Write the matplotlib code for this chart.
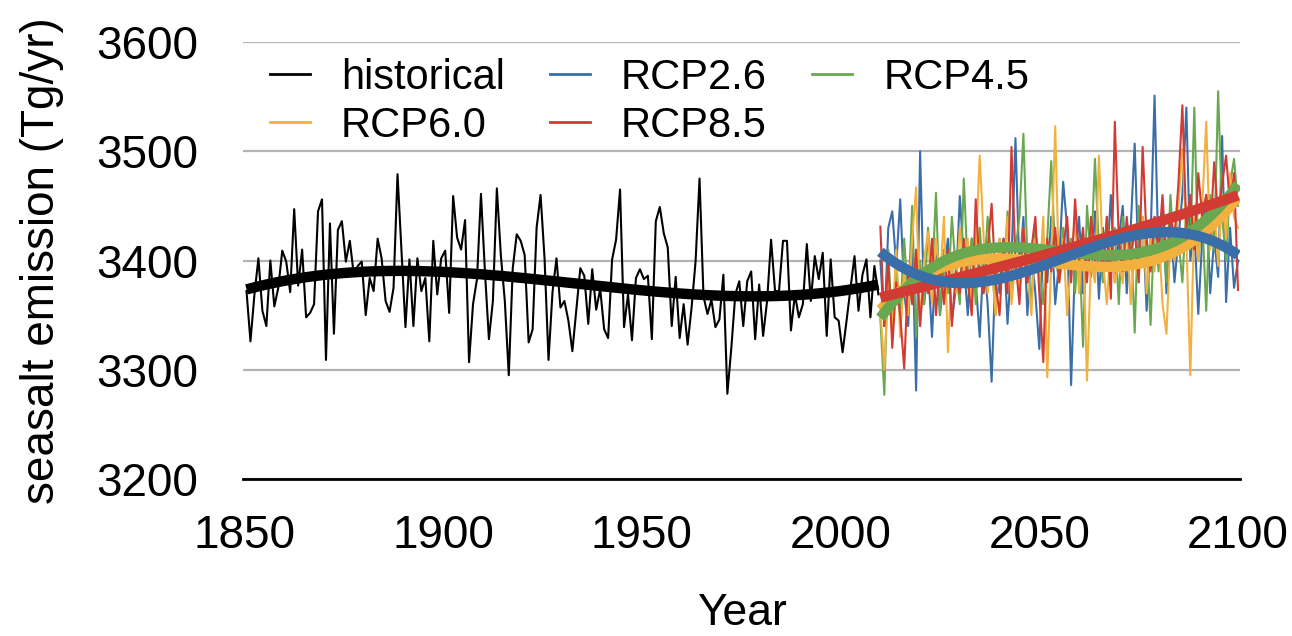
import numpy as np
import matplotlib
matplotlib.use("Agg")
import matplotlib.pyplot as plt
from matplotlib.lines import Line2D

plt.rcParams['font.family'] = ['Liberation Sans', 'DejaVu Sans']

# ---------------- data ----------------
hist_years = list(range(1850, 2010))
hist_vals = [
    3372, 3326, 3369, 3402, 3354, 3340, 3400, 3358, 3375, 3409,
    3399, 3371, 3447, 3377, 3410, 3348, 3352, 3360, 3445, 3456,
    3309, 3434, 3333, 3428, 3436, 3399, 3418, 3387, 3395, 3399,
    3350, 3384, 3372, 3420, 3402, 3363, 3353, 3375, 3479, 3409,
    3339, 3401, 3340, 3402, 3372, 3384, 3326, 3418, 3369, 3402,
    3409, 3352, 3459, 3421, 3410, 3437, 3307, 3360, 3383, 3461,
    3390, 3328, 3363, 3466, 3405, 3363, 3295, 3393, 3424, 3418,
    3405, 3325, 3337, 3430, 3460, 3402, 3309, 3371, 3402, 3357,
    3363, 3345, 3317, 3355, 3393, 3386, 3342, 3392, 3355, 3374,
    3337, 3329, 3401, 3419, 3465, 3339, 3369, 3327, 3384, 3392,
    3383, 3386, 3328, 3436, 3449, 3425, 3412, 3340, 3385, 3329,
    3360, 3323, 3357, 3399, 3475, 3367, 3351, 3364, 3339, 3346,
    3387, 3278, 3320, 3369, 3381, 3340, 3381, 3390, 3328, 3378,
    3331, 3363, 3419, 3372, 3372, 3418, 3418, 3336, 3369, 3348,
    3360, 3415, 3363, 3404, 3383, 3407, 3331, 3401, 3348, 3345,
    3316, 3345, 3375, 3404, 3354, 3387, 3401, 3348, 3395, 3369,
]

rcp_years = list(range(2010, 2101))
rcp26 = [
    3400, 3340, 3430, 3445, 3395, 3456, 3370, 3340, 3420, 3281,
    3500, 3360, 3395, 3330, 3410, 3350, 3390, 3420, 3345, 3375,
    3459, 3400, 3350, 3420, 3380, 3330, 3405, 3360, 3289, 3395,
    3370, 3420, 3342, 3400, 3512, 3390, 3440, 3350, 3410, 3370,
    3319, 3420, 3380, 3440, 3360, 3400, 3472, 3430, 3286, 3400,
    3440, 3370, 3420, 3385, 3445, 3365, 3430, 3395, 3460, 3380,
    3420, 3450, 3370, 3430, 3507, 3390, 3440, 3354, 3420, 3551,
    3400, 3450, 3370, 3440, 3380, 3420, 3460, 3540, 3400, 3430,
    3351, 3420, 3460, 3370, 3420, 3385, 3514, 3362, 3430, 3375,
    3400,
]
rcp45 = [
    3347, 3277, 3410, 3330, 3395, 3350, 3420, 3360, 3450, 3330,
    3400, 3360, 3430, 3380, 3462, 3350, 3410, 3370, 3440, 3390,
    3360, 3475, 3390, 3420, 3360, 3430, 3380, 3440, 3400, 3350,
    3420, 3380, 3445, 3370, 3410, 3440, 3516, 3400, 3360, 3430,
    3390, 3360, 3420, 3491, 3405, 3380, 3430, 3395, 3420, 3370,
    3420, 3321, 3450, 3400, 3493, 3410, 3380, 3440, 3395, 3430,
    3360, 3440, 3390, 3430, 3334, 3450, 3400, 3420, 3341, 3440,
    3390, 3430, 3380, 3460, 3400, 3420, 3380, 3450, 3410, 3540,
    3400, 3440, 3354, 3460, 3410, 3555, 3440, 3400, 3470, 3493,
    3450,
]
rcp60 = [
    3356, 3300, 3380, 3340, 3410, 3330, 3390, 3350, 3420, 3467,
    3340, 3400, 3426, 3360, 3420, 3380, 3440, 3316, 3400, 3370,
    3430, 3390, 3420, 3360, 3410, 3496, 3420, 3370, 3400, 3350,
    3420, 3380, 3440, 3360, 3400, 3370, 3430, 3390, 3350, 3420,
    3380, 3440, 3293, 3400, 3523, 3380, 3420, 3350, 3400, 3440,
    3370, 3420, 3290, 3400, 3380, 3496, 3400, 3360, 3420, 3380,
    3400, 3379, 3430, 3360, 3410, 3380, 3440, 3370, 3420, 3390,
    3430, 3360, 3333, 3420, 3400, 3450, 3502, 3420, 3295, 3440,
    3400, 3450, 3527, 3410, 3450, 3395, 3460, 3420, 3480, 3440,
    3430,
]
rcp85 = [
    3431, 3340, 3400, 3320, 3380, 3350, 3301, 3390, 3360, 3410,
    3340, 3390, 3370, 3420, 3350, 3400, 3360, 3410, 3340, 3390,
    3370, 3420, 3380, 3350, 3456, 3390, 3370, 3410, 3452, 3380,
    3350, 3420, 3370, 3504, 3400, 3360, 3430, 3380, 3410, 3440,
    3370, 3307, 3420, 3390, 3430, 3380, 3410, 3440, 3380, 3456,
    3400, 3430, 3380, 3440, 3400, 3420, 3390, 3440, 3365, 3527,
    3420, 3390, 3440, 3400, 3430, 3380, 3504, 3420, 3390, 3440,
    3410, 3460, 3400, 3440, 3420, 3470, 3542, 3430, 3460, 3410,
    3480, 3440, 3460, 3420, 3490, 3440, 3470, 3496, 3450, 3480,
    3373,
]

y_ticks = [3200, 3300, 3400, 3500, 3600]
x_ticks = [1850, 1900, 1950, 2000, 2050, 2100]

colors = {
    'historical': '#000000',
    'RCP2.6': '#3a6ea8',
    'RCP4.5': '#69a84f',
    'RCP6.0': '#f2b13f',
    'RCP8.5': '#d23b33',
}


def trend(x, y, deg=3):
    x = np.asarray(x, float)
    c = np.polyfit(x - x.mean(), np.asarray(y, float), deg)
    return np.polyval(c, x - x.mean())


# ---------------- figure ----------------
fig = plt.figure(figsize=(12.92, 6.36), dpi=100)
ax = fig.add_axes([243 / 1292, 1 - 479 / 636, 997 / 1292, 437 / 636])

hx = np.asarray(hist_years) + 0.5
rx = np.asarray(rcp_years, float)

thin = 1.5
thick = 7.5

ax.plot(hx, hist_vals, color=colors['historical'], lw=thin, zorder=3)
series = [('RCP2.6', rcp26), ('RCP4.5', rcp45), ('RCP6.0', rcp60), ('RCP8.5', rcp85)]
for name, vals in series:
    ax.plot(rx, vals, color=colors[name], lw=thin, zorder=3)

ax.plot(hx, trend(hx, hist_vals), color=colors['historical'], lw=thick,
        solid_capstyle='butt', zorder=4)
for name, vals in [('RCP6.0', rcp60), ('RCP4.5', rcp45), ('RCP8.5', rcp85), ('RCP2.6', rcp26)]:
    ax.plot(rx, trend(rx, vals), color=colors[name], lw=thick,
            solid_capstyle='butt', zorder=4)

ax.set_xlim(1849.62, 2100.5)
ax.set_ylim(3200, 3600)
ax.set_xticks(x_ticks)
ax.set_yticks(y_ticks)
ax.tick_params(axis='both', length=0, labelsize=33)
ax.tick_params(axis='x', pad=25)
ax.tick_params(axis='y', pad=32)

ax.grid(axis='y', color='#b3b3b3', lw=1.6, zorder=1)
for s in ['top', 'right', 'left']:
    ax.spines[s].set_visible(False)
ax.spines['bottom'].set_color('black')
ax.spines['bottom'].set_linewidth(2.0)
ax.spines['bottom'].set_zorder(5)

ax.set_xlabel('Year', fontsize=32)
ax.set_ylabel('seasalt emission (Tg/yr)', fontsize=33)
ax.xaxis.set_label_coords(0.5, -0.262)
ax.yaxis.set_label_coords(-0.18, 0.5)

order = ['historical', 'RCP6.0', 'RCP2.6', 'RCP8.5', 'RCP4.5']
handles = [Line2D([], [], color=colors[n], lw=2) for n in order]
leg = ax.legend(handles, order, loc='upper left', bbox_to_anchor=(0.027, 0.964),
                ncol=3, frameon=False, fontsize=30, borderaxespad=0, borderpad=0,
                handlelength=0.95, handletextpad=0.75, columnspacing=1.09,
                labelspacing=0.2)

fig.savefig('out.png', dpi=100)
